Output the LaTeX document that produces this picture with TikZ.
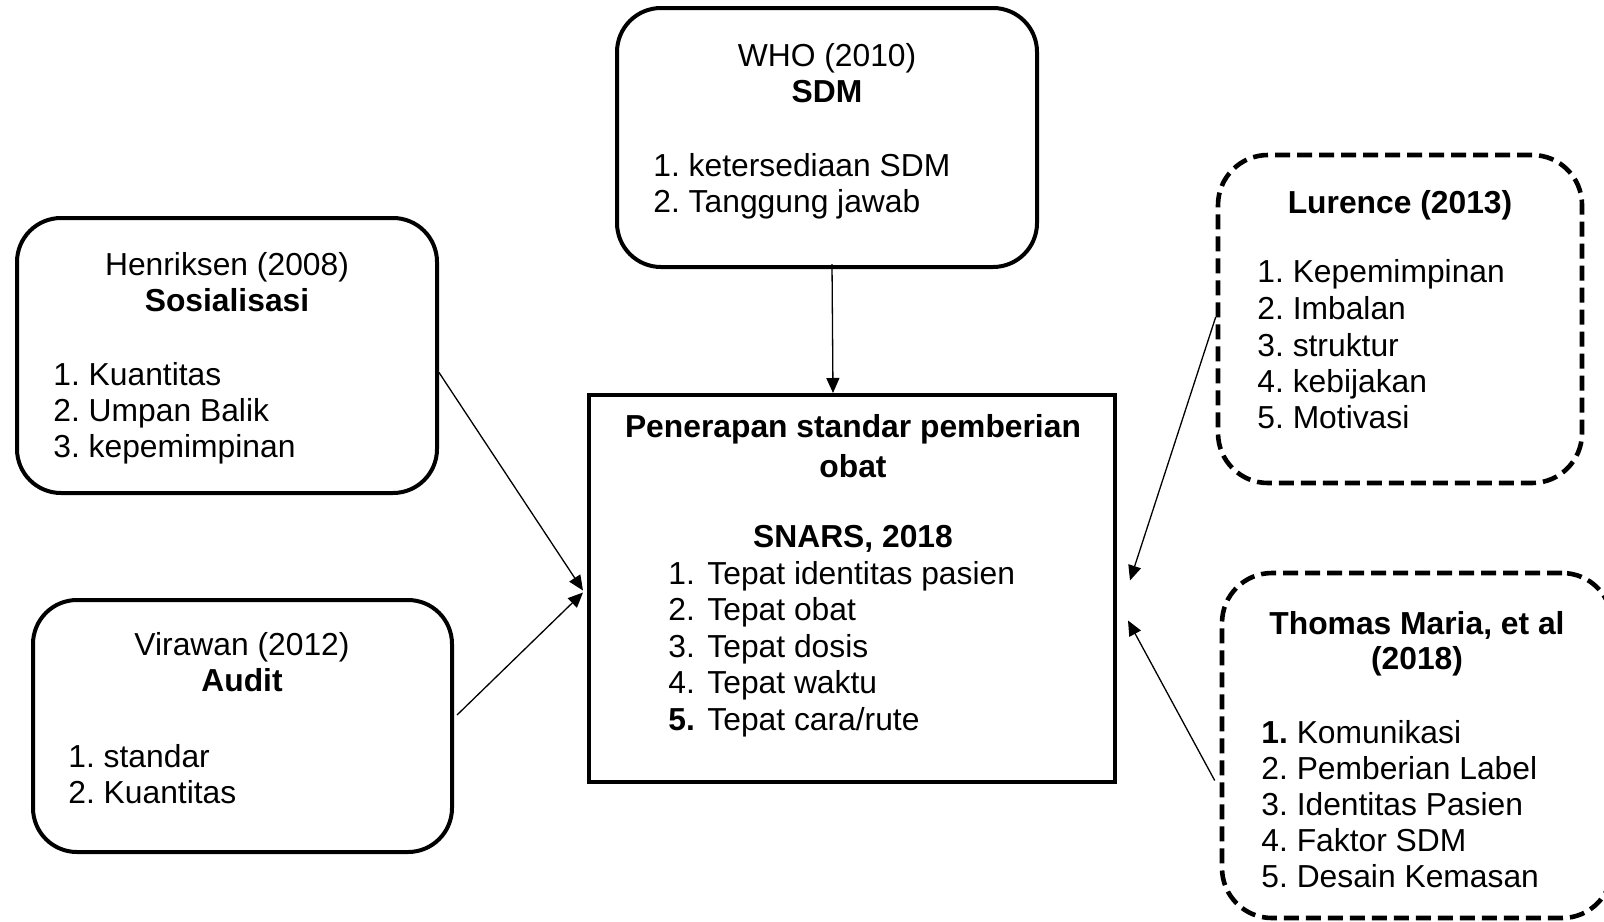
\documentclass[tikz,border=0pt]{standalone}
\usepackage{fontspec}
\setmainfont{Liberation Sans}
\usetikzlibrary{arrows.meta,calc,fit}
\frenchspacing
\begin{document}
\begin{tikzpicture}[x=0.5pt,y=-0.5pt,
  txt/.style={inner sep=0pt, font=\fontsize{15.9}{19}\selectfont},
  ttl/.style={txt, anchor=base},
  itm/.style={txt, anchor=base west},
  rbox/.style={draw, line width=2pt, rounded corners=22pt, inner sep=0pt},
  dbox/.style={draw, line width=2.3pt, rounded corners=25pt, inner sep=0pt, dash pattern=on 7.5pt off 3.5pt},
  sbox/.style={draw, line width=2pt, inner sep=0pt},
  conn/.style={line width=0.65pt, -{Triangle[length=7.5pt,width=6.5pt]}}]
\clip (0,0) rectangle (1604,921);
\fill[white] (0,0) rectangle (1604,921);

% boxes
\node[rbox, fit={(617,8) (1037,267)}] (who) {};
\node[rbox, fit={(17,218) (437,493)}] (hen) {};
\node[rbox, fit={(33,600) (452,852)}] (vir) {};
\node[sbox, fit={(589,395) (1115,782)}] (cen) {};
\node[dbox, fit={(1218,155) (1582,483)}] (lur) {};
\node[dbox, fit={(1222,573) (1612,918)}] (tho) {};

% WHO
\node[ttl] (who1) at (827,66) {WHO (2010)};
\node[ttl] (who2) at (827,102) {\textbf{SDM}};
\node[itm] (who3) at (653,176) {1. ketersediaan SDM};
\node[itm] (who4) at (653,212) {2. Tanggung jawab};

% Henriksen
\node[ttl] (hen1) at (227,275) {Henriksen (2008)};
\node[ttl] (hen2) at (227,311) {\textbf{Sosialisasi}};
\node[itm] (hen3) at (53,385) {1. Kuantitas};
\node[itm] (hen4) at (53,421) {2. Umpan Balik};
\node[itm] (hen5) at (53,457) {3. kepemimpinan};

% Virawan
\node[ttl] (vir1) at (242,655) {Virawan (2012)};
\node[ttl] (vir2) at (242,691) {\textbf{Audit}};
\node[itm] (vir3) at (68,767) {1. standar};
\node[itm] (vir4) at (68,803) {2. Kuantitas};

% Central
\node[ttl] (cen1) at (853,437) {\textbf{Penerapan standar pemberian}};
\node[ttl] (cen2) at (853,477) {\textbf{obat}};
\node[ttl] (cen3) at (853,547) {\textbf{SNARS, 2018}};
\node[itm] (cn1) at (668,584) {1.};
\node[itm] (ct1) at (707,584) {Tepat identitas pasien};
\node[itm] (cn2) at (668,620) {2.};
\node[itm] (ct2) at (707,620) {Tepat obat};
\node[itm] (cn3) at (668,657) {3.};
\node[itm] (ct3) at (707,657) {Tepat dosis};
\node[itm] (cn4) at (668,693) {4.};
\node[itm] (ct4) at (707,693) {Tepat waktu};
\node[itm] (cn5) at (668,730) {\textbf{5.}};
\node[itm] (ct5) at (707,730) {Tepat cara/rute};

% Lurence
\node[ttl] (lur1) at (1400,213) {\textbf{Lurence (2013)}};
\node[itm] (lur2) at (1257,282) {1. Kepemimpinan};
\node[itm] (lur3) at (1257,319) {2. Imbalan};
\node[itm] (lur4) at (1257,356) {3. struktur};
\node[itm] (lur5) at (1257,392) {4. kebijakan};
\node[itm] (lur6) at (1257,428) {5. Motivasi};

% Thomas
\node[ttl] (tho1) at (1417,634) {\textbf{Thomas Maria, et al}};
\node[ttl] (tho2) at (1417,669) {\textbf{(2018)}};
\node[itm] (tho3) at (1261,743) {\textbf{1.} Komunikasi};
\node[itm] (tho4) at (1261,779) {2. Pemberian Label};
\node[itm] (tho5) at (1261,815) {3. Identitas Pasien};
\node[itm] (tho6) at (1261,851) {4. Faktor SDM};
\node[itm] (tho7) at (1261,887) {5. Desain Kemasan};

% connectors
\draw[conn] ($(who.south)+(5,-5)$) -- ($(cen.north)+(-19,0)$);
\draw[conn] ($(hen.east)+(0,17)$) -- ($(cen.west)+(-4,2)$);
\draw[conn] ($(vir.east)+(3,-11)$) -- ($(cen.west)+(-4,4)$);
\draw[conn] ($(lur.west)+(0,-2)$) -- ($(cen.east)+(13,-8)$);
\draw[conn] ($(tho.west)+(-5,35)$) -- ($(cen.east)+(11,32)$);
\end{tikzpicture}
\end{document}
